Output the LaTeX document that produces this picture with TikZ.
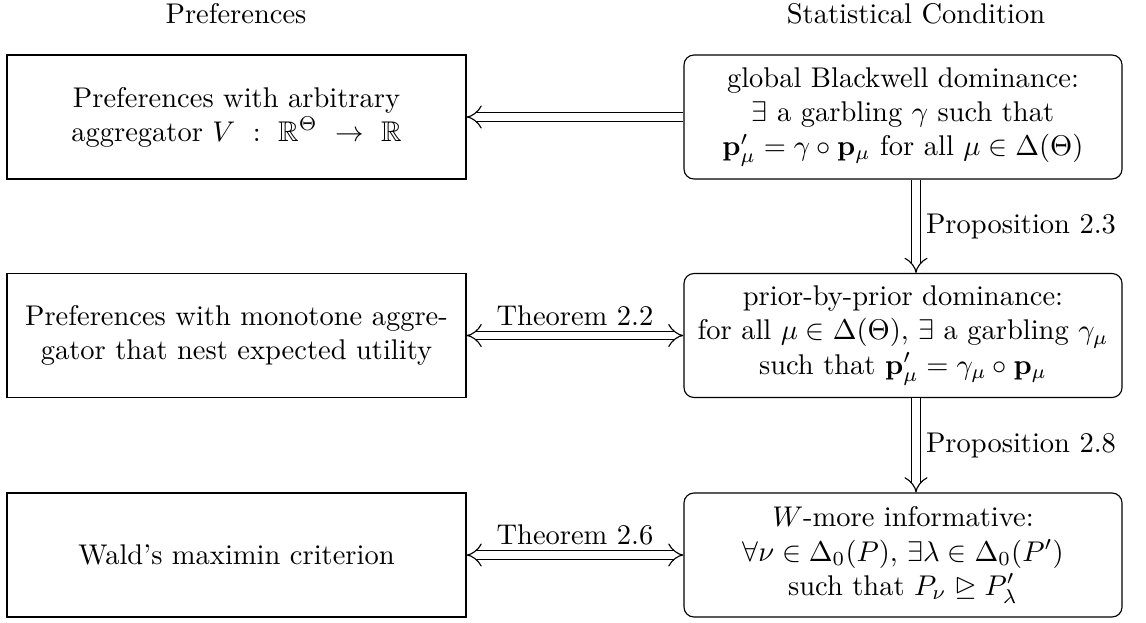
\documentclass[tikz,border=0pt]{standalone}
\usepackage{amsmath,amssymb}
\usetikzlibrary{arrows.meta}
\begin{document}
\begin{tikzpicture}[x=0.35088pt,y=-0.35088pt,
  prefbox/.style={draw, rectangle, minimum width=161.05pt, minimum height=43.5pt, align=center, inner sep=0pt},
  statbox/.style={draw, rectangle, rounded corners=3.5pt, minimum width=153.7pt, minimum height=43.5pt, align=center, inner sep=0pt},
  implarrow/.style={double distance=2.5pt, -Implies},
  bothimpl/.style={double distance=2.5pt, Implies-Implies},
  heading/.style={inner sep=0pt}]
\useasboundingbox (0,0) rectangle (1146,622);

% column headings
\node[heading] (hpref) at (236,14) {Preferences};
\node[heading] (hstat) at (916,14) {Statistical Condition};

% preference classes
\node[prefbox] (arb) at (236.5,117) {Preferences with arbitrary\\aggregator $V\ :\ \mathbb{R}^{\Theta}\ \to\ \mathbb{R}$};
\node[prefbox] (mono) at (236.5,335.5) {Preferences with monotone aggre-\\gator that nest expected utility};
\node[prefbox] (wald) at (236.5,555) {Wald's maximin criterion};

% statistical conditions
\node[statbox] (glob) at (903,117) {global Blackwell dominance:\\$\exists$ a garbling $\gamma$ such that\\$\mathbf{p}'_\mu=\gamma\circ\mathbf{p}_\mu$ for all $\mu\in\Delta(\Theta)$};
\node[statbox] (prior) at (903,335.5) {prior-by-prior dominance:\\for all $\mu\in\Delta(\Theta)$, $\exists$ a garbling $\gamma_\mu$\\such that $\mathbf{p}'_\mu=\gamma_\mu\circ\mathbf{p}_\mu$};
\node[statbox] (wmore) at (903,555) {$W$-more informative:\\$\forall\nu\in\Delta_0(P)$, $\exists\lambda\in\Delta_0(P')$\\such that $P_\nu\trianglerighteq P'_\lambda$};

% implications
\draw[implarrow] (glob) -- (arb);
\draw[implarrow] (glob.south -| hstat) -- node[right]{Proposition 2.3} (prior.north -| hstat);
\draw[implarrow] (prior.south -| hstat) -- node[right]{Proposition 2.8} (wmore.north -| hstat);
\draw[bothimpl] (mono) -- node[above]{Theorem 2.2} (prior);
\draw[bothimpl] (wald) -- node[above]{Theorem 2.6} (wmore);
\end{tikzpicture}
\end{document}
